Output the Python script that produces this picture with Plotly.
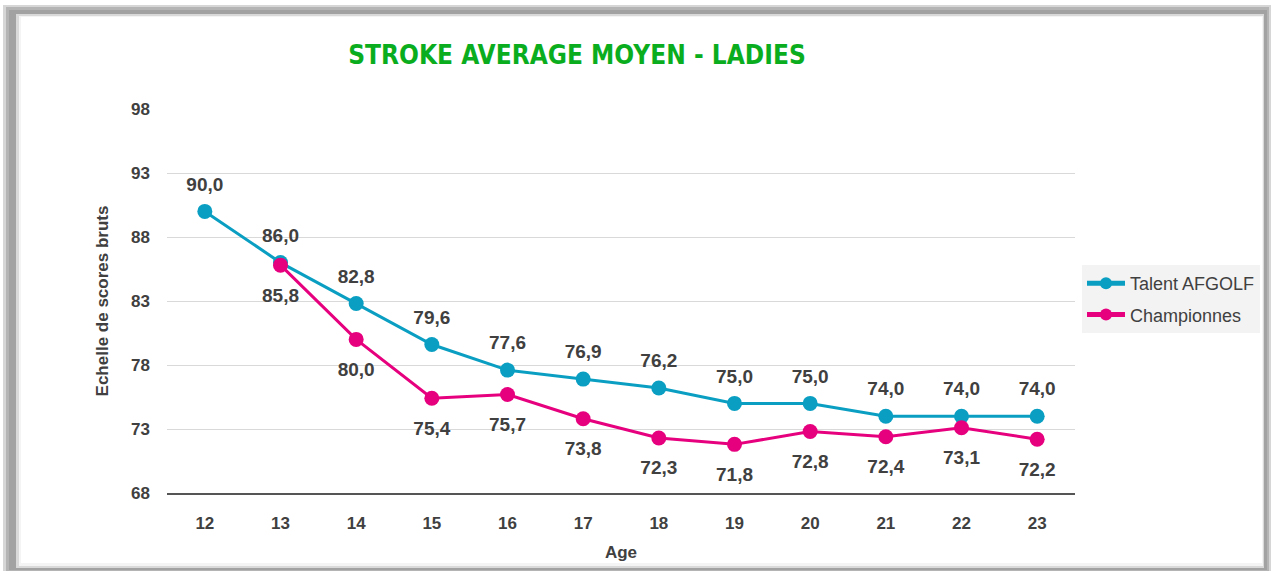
import plotly.graph_objects as go

ages = [12, 13, 14, 15, 16, 17, 18, 19, 20, 21, 22, 23]
talent = [90.0, 86.0, 82.8, 79.6, 77.6, 76.9, 76.2, 75.0, 75.0, 74.0, 74.0, 74.0]
champ_ages = [13, 14, 15, 16, 17, 18, 19, 20, 21, 22, 23]
champ = [85.8, 80.0, 75.4, 75.7, 73.8, 72.3, 71.8, 72.8, 72.4, 73.1, 72.2]
y_ticks = [68, 73, 78, 83, 88, 93, 98]

TEAL = "#0a9fc2"
PINK = "#e6007e"
TXT = "#404040"
LBL_FONT = dict(size=19, color=TXT, family="Liberation Sans, Arial", weight="bold")

W, H = 1272, 571
L, R, T, B = 167, 1075, 109, 493


def px(x):
    return (x - L) / (R - L)


def py(y):
    return (B - y) / (B - T)


def fmt(v):
    return f"{v:.1f}".replace(".", ",")


cats = [str(a) for a in ages]
tx = [str(a) for a in ages]
cx = [str(a) for a in champ_ages]

fig = go.Figure()
fig.add_trace(go.Scatter(
    x=tx, y=talent, name="Talent AFGOLF", mode="lines+markers", legendgroup="a",
    line=dict(color=TEAL, width=3), marker=dict(color=TEAL, size=15),
))
fig.add_trace(go.Scatter(
    x=cx, y=champ, name="Championnes", mode="lines+markers", legendgroup="b",
    line=dict(color=PINK, width=3), marker=dict(color=PINK, size=15),
))
# data labels
fig.add_trace(go.Scatter(
    x=tx, y=talent, mode="markers+text", text=[fmt(v) for v in talent],
    textposition="top center", textfont=LBL_FONT,
    marker=dict(size=24, color="rgba(0,0,0,0)"), showlegend=False, hoverinfo="skip",
))
fig.add_trace(go.Scatter(
    x=cx, y=champ, mode="markers+text", text=[fmt(v) for v in champ],
    textposition="bottom center", textfont=LBL_FONT,
    marker=dict(size=34, color="rgba(0,0,0,0)"), showlegend=False, hoverinfo="skip",
))

shapes = []
# frame
frame = [
    ((3, 5, 1271, 571), "#d6d6d6"),
    ((6, 7, 1269, 571), "#b4b4b4"),
    ((9, 10, 1267, 570), "#a2a2a2"),
    ((16, 14, 1264, 568), "#d9d9d9"),
    ((19, 16, 1263, 566), "#f4f4f4"),
    ((21, 17, 1262, 563), "#ffffff"),
]
for (x0, y0, x1, y1), c in frame:
    shapes.append(dict(type="rect", xref="paper", yref="paper", x0=px(x0), x1=px(x1),
                       y0=py(y1), y1=py(y0), fillcolor=c, line=dict(width=0), layer="below"))

fig.update_layout(
    width=W, height=H,
    margin=dict(l=L, r=W - R, t=T, b=H - B, pad=0),
    paper_bgcolor="white", plot_bgcolor="rgba(0,0,0,0)",
    font=dict(family="Liberation Sans, Arial", color=TXT),
    title=dict(text="STROKE AVERAGE MOYEN - LADIES", x=577 / W, xref="container", xanchor="center",
               y=1 - 55 / H, yref="container", yanchor="middle",
               font=dict(family="DejaVu Sans Condensed, sans-serif",
                         size=26, color="#0aad1e", weight="bold")),
    xaxis=dict(type="category", categoryorder="array", categoryarray=cats, range=[-0.5, 11.5],
               showgrid=False, showline=True, linecolor="#555555", linewidth=2,
               ticks="", ticklabelstandoff=14,
               tickfont=dict(size=17, color=TXT, weight="bold"),
               title=dict(text="Age", font=dict(size=17, color=TXT, weight="bold"), standoff=14)),
    yaxis=dict(range=[68, 98], tickvals=y_ticks, showgrid=True, gridcolor="#d9d9d9", gridwidth=1,
               zeroline=False, showline=False, ticks="", ticklabelstandoff=16,
               tickfont=dict(size=17, color=TXT, weight="bold"),
               title=dict(text="Echelle de scores bruts", font=dict(size=17, color=TXT, weight="bold"),
                          standoff=18)),
    legend=dict(x=px(1082), y=py(265), xanchor="left", yanchor="top", bgcolor="#f3f3f3",
                font=dict(size=18, color=TXT), itemwidth=38, itemsizing="constant",
                tracegroupgap=5),
    showlegend=True,
    shapes=shapes,
)

fig.write_html("out.html", config={"displayModeBar": False},
               post_script="document.body.style.margin='0';document.body.style.overflow='hidden';")
